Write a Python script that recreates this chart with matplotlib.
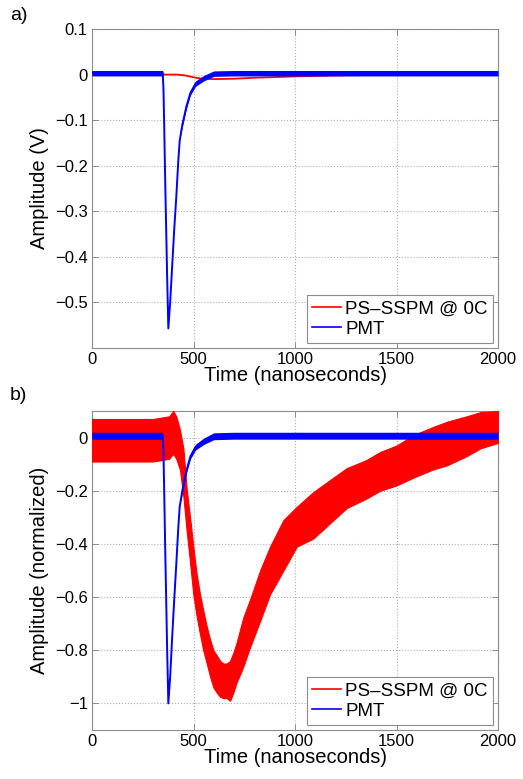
import matplotlib
matplotlib.use("Agg")
import matplotlib.pyplot as plt
from matplotlib.lines import Line2D

plt.rcParams['font.family'] = ['Liberation Sans', 'DejaVu Sans']

# ---------------- data ----------------
# Panel a) PMT, volts
t_pmt = [0, 340, 348, 352, 356, 360, 365, 370, 376, 385, 395, 405, 415, 425,
         432, 445, 465, 485, 510, 550, 600, 700, 1000, 1500, 2000]
pmt_a = [0.004, 0.004, 0.004, -0.03, -0.12, -0.22, -0.33, -0.44, -0.557, -0.50,
         -0.42, -0.34, -0.27, -0.19, -0.145, -0.11, -0.07, -0.04, -0.02, -0.008,
         0.002, 0.004, 0.004, 0.004, 0.004]
pmt_a_hi = [0.009, 0.009, 0.009, -0.03, -0.12, -0.22, -0.33, -0.44, -0.557, -0.50,
            -0.42, -0.34, -0.27, -0.19, -0.145, -0.105, -0.065, -0.035, -0.014, -0.002,
            0.008, 0.009, 0.009, 0.009, 0.009]
pmt_a_lo = [-0.003, -0.003, -0.003, -0.03, -0.12, -0.22, -0.33, -0.44, -0.557, -0.50,
            -0.42, -0.34, -0.27, -0.19, -0.145, -0.115, -0.075, -0.045, -0.026, -0.014,
            -0.004, -0.003, -0.003, -0.003, -0.003]

# Panel a) PS-SSPM, volts
t_sspm_a = [0, 350, 420, 460, 500, 540, 600, 700, 800, 1000, 1200, 1500, 2000]
sspm_a = [0.0, 0.0, 0.0, -0.002, -0.006, -0.009, -0.010, -0.009, -0.007,
          -0.004, -0.002, 0.0, 0.001]

# Panel b) PMT, normalized
pmt_b = [0.008, 0.008, 0.008, -0.054, -0.215, -0.395, -0.59, -0.79, -1.0, -0.90,
         -0.75, -0.61, -0.48, -0.34, -0.26, -0.20, -0.125, -0.07, -0.036, -0.014,
         0.004, 0.008, 0.008, 0.008, 0.008]
pmt_b_hi = [0.02, 0.02, 0.02, -0.054, -0.215, -0.395, -0.59, -0.79, -1.0, -0.90,
            -0.75, -0.61, -0.48, -0.34, -0.26, -0.19, -0.115, -0.06, -0.025, -0.002,
            0.018, 0.02, 0.02, 0.02, 0.02]
pmt_b_lo = [-0.006, -0.006, -0.006, -0.054, -0.215, -0.395, -0.59, -0.79, -1.0, -0.90,
            -0.75, -0.61, -0.48, -0.34, -0.26, -0.21, -0.135, -0.08, -0.047, -0.026,
            -0.008, -0.006, -0.006, -0.006, -0.006]

# Panel b) PS-SSPM, normalized: noisy band envelope
t_sspm_b = [0, 100, 200, 300, 380, 400, 415, 433, 450, 466, 483, 499, 515, 532,
            548, 565, 582, 598, 615, 631, 647, 663, 680, 696, 713, 730, 746, 778,
            828, 877, 943, 1009, 1090, 1190, 1255, 1350, 1420, 1500, 1585, 1680,
            1750, 1845, 1915, 2000]
sspm_b_hi = [0.07, 0.07, 0.07, 0.07, 0.08, 0.10, 0.08, 0.03, -0.04, -0.19, -0.30,
             -0.41, -0.51, -0.59, -0.65, -0.71, -0.76, -0.80, -0.82, -0.84, -0.85,
             -0.85, -0.84, -0.81, -0.77, -0.72, -0.675, -0.61, -0.50, -0.41, -0.31,
             -0.26, -0.205, -0.15, -0.115, -0.085, -0.054, -0.03, 0.01, 0.04, 0.06,
             0.08, 0.096, 0.10]
sspm_b_lo = [-0.09, -0.09, -0.09, -0.09, -0.08, -0.06, -0.08, -0.12, -0.22, -0.35,
             -0.47, -0.59, -0.67, -0.74, -0.80, -0.85, -0.90, -0.94, -0.96, -0.975,
             -0.98, -0.98, -0.99, -0.96, -0.92, -0.89, -0.86, -0.79, -0.69, -0.59,
             -0.50, -0.41, -0.38, -0.31, -0.265, -0.23, -0.20, -0.18, -0.15, -0.12,
             -0.104, -0.07, -0.04, -0.02]

x_ticks = [0, 500, 1000, 1500, 2000]
y_ticks_a = [-0.5, -0.4, -0.3, -0.2, -0.1, 0, 0.1]
y_tick_labels_a = ['\u22120.5', '\u22120.4', '\u22120.3', '\u22120.2', '\u22120.1', '0', '0.1']
y_ticks_b = [-1, -0.8, -0.6, -0.4, -0.2, 0]
y_tick_labels_b = ['\u22121', '\u22120.8', '\u22120.6', '\u22120.4', '\u22120.2', '0']

labels = ['PS\u2013SSPM @ 0C', 'PMT']
RED = '#ff0000'
BLUE = '#0000ff'
FRAME = '#8c8c8c'

# ---------------- figure ----------------
fig = plt.figure(figsize=(5.23, 7.79), dpi=100)
ax1 = fig.add_axes([92/523, 1-348/779, 406/523, 319/779])
ax2 = fig.add_axes([92/523, 1-730/779, 406/523, 319/779])


def style(ax, yticks, ylabels, ylim, ylabel):
    ax.set_xlim(0, 2000)
    ax.set_ylim(*ylim)
    ax.set_xticks(x_ticks)
    ax.set_xticklabels([str(v) for v in x_ticks])
    ax.set_yticks(yticks)
    ax.set_yticklabels(ylabels)
    ax.tick_params(direction='in', length=4, width=0.7, color=FRAME,
                   top=True, right=True, labelsize=12, pad=3)
    for s in ax.spines.values():
        s.set_color(FRAME)
        s.set_linewidth(0.8)
    ax.grid(True, linestyle=':', color='#b0b0b0', linewidth=0.8)
    ax.set_axisbelow(True)
    ax.set_xlabel('Time (nanoseconds)', fontsize=14.5, labelpad=-1)
    ax.set_ylabel(ylabel, fontsize=14.5, labelpad=4)
    handles = [Line2D([0], [0], color=RED, lw=1.2),
               Line2D([0], [0], color=BLUE, lw=1.2)]
    leg = ax.legend(handles, labels, loc='lower right', fontsize=13.5,
                    frameon=True, fancybox=False, edgecolor=FRAME,
                    framealpha=1, borderaxespad=0.25, borderpad=0.3,
                    labelspacing=0.15, handlelength=1.5, handletextpad=0.25)
    leg.get_frame().set_linewidth(0.8)


# panel a
ax1.plot(t_sspm_a, sspm_a, color=RED, lw=1.3, zorder=3)
ax1.fill_between(t_pmt, pmt_a_lo, pmt_a_hi, color=BLUE, lw=0, zorder=4)
ax1.plot(t_pmt, pmt_a, color=BLUE, lw=1.4, zorder=4)
style(ax1, y_ticks_a, y_tick_labels_a, (-0.6, 0.1), 'Amplitude (V)')

# panel b
ax2.fill_between(t_sspm_b, sspm_b_lo, sspm_b_hi, color=RED, lw=0.8,
                 edgecolor=RED, zorder=3)
ax2.fill_between(t_pmt, pmt_b_lo, pmt_b_hi, color=BLUE, lw=0, zorder=4)
ax2.plot(t_pmt, pmt_b, color=BLUE, lw=1.4, zorder=4)
style(ax2, y_ticks_b, y_tick_labels_b, (-1.1, 0.1), 'Amplitude (normalized)')

fig.text(10/523, 1-16/779, 'a)', fontsize=14, va='center', ha='left')
fig.text(10/523, 1-396/779, 'b)', fontsize=14, va='center', ha='left')

fig.savefig('out.png', dpi=100)
